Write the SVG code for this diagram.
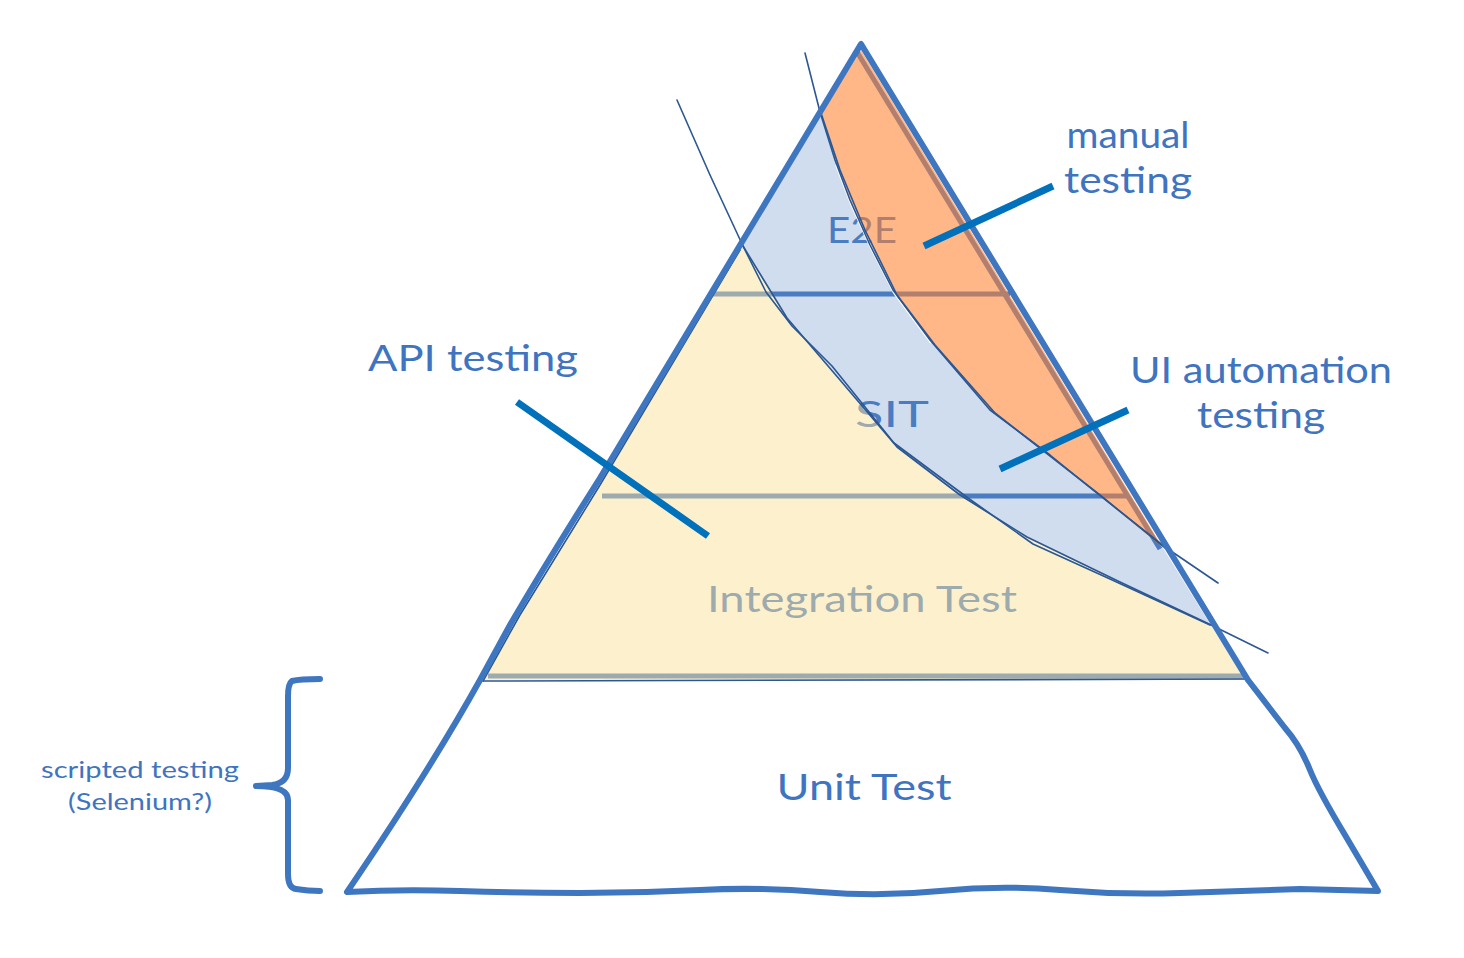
<svg xmlns="http://www.w3.org/2000/svg" width="1464" height="958" viewBox="0 0 1464 958">
  <style>
    .lbl { font-family: Lato, "Open Sans", sans-serif; fill: #3f74c0; text-anchor: middle; }
    .big { font-size: 37px; }
    .small { font-size: 23px; }
    .under { stroke: #3f74c0; stroke-width: 5; fill: none; }
    .thin { stroke: #2b5793; stroke-width: 1.6; fill: none; stroke-linejoin: round; stroke-linecap: round; }
    .outline { stroke: #3f76c0; stroke-width: 6; fill: none; stroke-linejoin: round; stroke-linecap: round; }
    .leader { stroke: #0071ba; stroke-width: 7; fill: none; }
  </style>
  <rect width="1464" height="958" fill="#ffffff"/>

  <!-- layer contents drawn beneath the translucent fills -->
  <g id="underlay">
    <line class="under" x1="713" y1="294" x2="1010" y2="294"/>
    <line class="under" x1="602" y1="496" x2="1128" y2="496"/>
    <line class="under" x1="488" y1="676" x2="1243" y2="676"/>
    <line class="under" x1="857" y1="52" x2="1160" y2="549"/>
  </g>
  <g id="node-e2e-label"><text class="lbl big" x="862" y="243" textLength="70" lengthAdjust="spacingAndGlyphs">E2E</text></g>
  <g id="node-sit-label"><text class="lbl big" x="892" y="427" textLength="74" lengthAdjust="spacingAndGlyphs">SIT</text></g>
  <g id="node-integration-label"><text class="lbl big" x="862" y="612" textLength="310" lengthAdjust="spacingAndGlyphs">Integration Test</text></g>

  <!-- translucent fills -->
  <g id="node-integration">
    <path d="M742 246 L483 680 L1245 680 L1210 624 L1120 582 L1027 537 L960 495 L897 447 L840 380 L787 318 Z" fill="#fbe19b" fill-opacity="0.5"/>
  </g>
  <g id="node-ui-automation">
    <path d="M821 114 L742 246 L787 318 L840 380 L897 447 L960 495 L1027 537 L1120 582 L1210 624 L1163 548 L1093 490 L1050 455 L990 410 L930 340 L893 290 L870 243 L850 200 L835 160 Z" fill="#628ec6" fill-opacity="0.3"/>
  </g>
  <g id="node-manual">
    <path d="M861 50 L1163 548 L1093 490 L1050 455 L990 410 L930 340 L893 290 L870 243 L850 200 L835 160 L821 114 Z" fill="#ff8737" fill-opacity="0.6"/>
  </g>

  <!-- sketch curves -->
  <g id="curves">
    <polyline points="836,165 851,204 871,248 894,293 931,343" fill="none" stroke="#ffffff" stroke-width="2"/>
    <polyline class="thin" points="677,100 710,175 743,246 787,318 840,380 897,447 960,495 1027,537 1120,582 1207,623 1268,653"/>
    <polyline class="thin" points="741,242 766,292 792,326 832,366 894,443 968,498 1033,544 1110,579 1210,625"/>
    <polyline class="thin" points="805,53 820,112 835,160 850,200 870,245 893,290 930,340 990,410 1050,455 1093,490 1165,547 1218,583"/>
    <polyline class="thin" points="820,110 840,170 865,230 897,295 935,345 995,413 1100,495 1165,548"/>
    <polyline class="thin" points="483,681 1248,679"/>
    <polyline class="thin" points="740,250 600,485 520,615 483,681"/>
  </g>

  <!-- outer pyramid -->
  <g id="node-pyramid">
    <path class="outline" d="M861 44 L600 478 Q545 565 510 625 L480 680 Q430 770 347 892 Q400 889 460 891 T580 893 T700 890 T820 892 T940 891 T1060 890 T1180 893 T1300 889 L1378 891 L1345 835 Q1318 790 1310 770 Q1300 745 1285 728 L1248 680 Z"/>
  </g>
  <g id="node-unit"><text class="lbl big" x="864" y="800" textLength="175" lengthAdjust="spacingAndGlyphs">Unit Test</text></g>

  <!-- outside labels -->
  <g id="node-manual-testing">
    <text class="lbl big" x="1128" y="148" textLength="123" lengthAdjust="spacingAndGlyphs">manual</text>
    <text class="lbl big" x="1128" y="193" textLength="128" lengthAdjust="spacingAndGlyphs">testing</text>
  </g>
  <g id="node-ui-automation-testing">
    <text class="lbl big" x="1261" y="383" textLength="262" lengthAdjust="spacingAndGlyphs">UI automation</text>
    <text class="lbl big" x="1261" y="428" textLength="128" lengthAdjust="spacingAndGlyphs">testing</text>
  </g>
  <g id="node-api-testing">
    <text class="lbl big" x="473" y="371" textLength="210" lengthAdjust="spacingAndGlyphs">API testing</text>
  </g>
  <g id="node-scripted">
    <text class="lbl small" x="140" y="778" textLength="198" lengthAdjust="spacingAndGlyphs">scripted testing</text>
    <text class="lbl small" x="140" y="810" textLength="144" lengthAdjust="spacingAndGlyphs">(Selenium?)</text>
    <path class="outline" d="M320 679 Q300 679 292 681 Q288 684 288 696 L288 768 Q288 783 272 785 L256 786 Q288 786 288 800 L288 874 Q288 888 296 889 Q308 891 320 891"/>
  </g>

  <!-- connectors -->
  <g id="connectors">
    <line class="leader" x1="1053" y1="186" x2="924" y2="246"/>
    <line class="leader" x1="1128" y1="410" x2="1000" y2="469"/>
    <line class="leader" x1="517" y1="402" x2="708" y2="536"/>
  </g>
</svg>
